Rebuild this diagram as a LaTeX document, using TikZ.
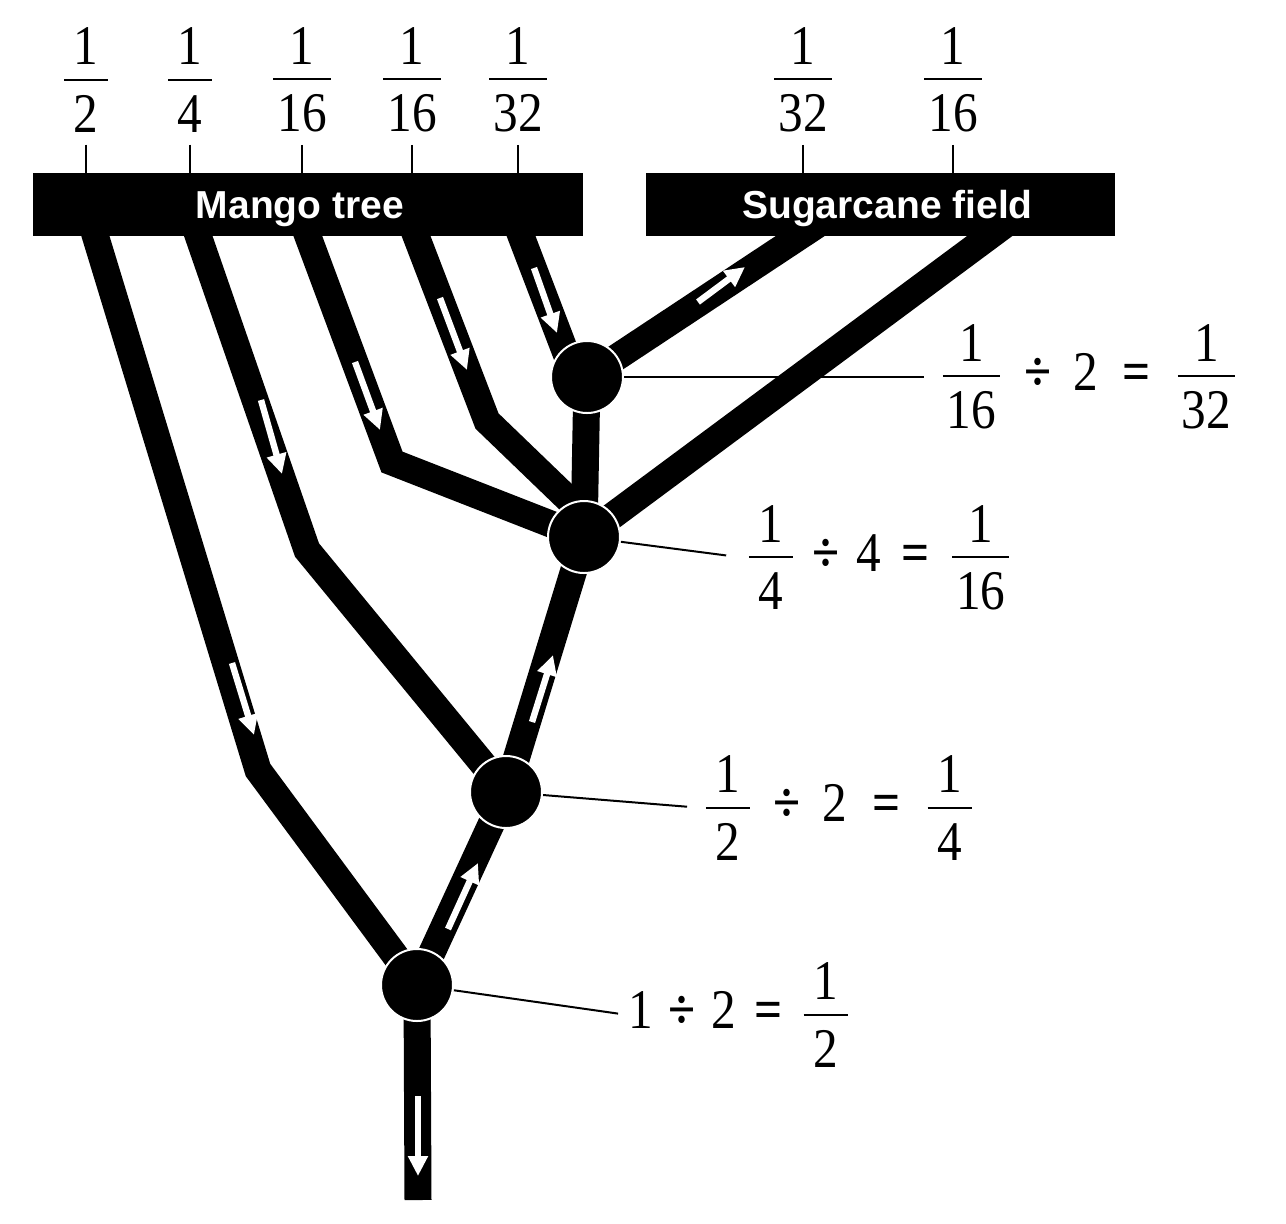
\RequirePackage{fix-cm}
\documentclass[tikz,border=0pt]{standalone}
\usepackage{amsmath}
\usepackage{fontspec}
\setmainfont[FakeStretch=0.88]{Liberation Serif}
\newfontfamily\barfont{Liberation Sans}
\usepackage{tikz}
\usetikzlibrary{arrows.meta,backgrounds}
\definecolor{ink}{HTML}{000000}
\definecolor{paper}{HTML}{FFFFFF}
\newcommand{\fr}[2]{\dfrac{\raisebox{-4.5pt}{\makebox[22pt]{#1}}}{\text{\kern2pt#2\kern2pt}}}
\newcommand{\divop}[1][3]{\mathbin{\mkern#1mu\textbf{÷}\mkern#1mu}}
\newcommand{\eqop}[1][3]{\mathrel{\mkern#1mu\textbf{=}\mkern#1mu}}
\tikzset{
  pipe/.style={draw=ink, line width=13.5pt, line join=miter},
  flow/.style={draw=paper, line width=3.2pt, -{Triangle[width=9.5pt,length=10pt]}},
  junc/.style={circle, fill=ink, draw=paper, line width=1pt, minimum size=36pt, inner sep=0pt},
  bar/.style={fill=ink, text=paper, minimum height=31.5pt, inner sep=0pt, text height=14pt, text depth=0pt, font=\barfont\bfseries\fontsize{19.5}{22}\selectfont},
  tick/.style={draw=ink, line width=1.1pt},
  lead/.style={draw=ink, line width=1pt},
  frac/.style={text=ink, inner sep=0pt, font=\fontsize{28}{32}\selectfont},
}
\begin{document}
\begin{tikzpicture}[x=0.5pt, y=-0.5pt]
  \useasboundingbox (0,0) rectangle (1286,1223);
  % shares above the bars
  \node[frac] (m1) at (86,80) {$\fr{1}{2}$};
  \node[frac] (m2) at (190,80) {$\fr{1}{4}$};
  \node[frac] (m3) at (302,80) {$\fr{1}{16}$};
  \node[frac] (m4) at (412,80) {$\fr{1}{16}$};
  \node[frac] (m5) at (518,80) {$\fr{1}{32}$};
  \node[frac] (s1) at (803,80) {$\fr{1}{32}$};
  \node[frac] (s2) at (953,80) {$\fr{1}{16}$};
  \node[bar, minimum width=275pt] (mango) at (308,204.5) {Mango tree\hspace*{8pt}};
  \node[bar, minimum width=234.5pt] (cane) at (880.5,204.5) {\hspace*{7pt}Sugarcane field};
  \foreach \f in {m1,m2,m3,m4,m5,s1,s2}
    \draw[tick] ([yshift=-6pt]\f.south) -- (\f.south |- mango.north);
  % junctions
  \node[junc] (n1) at (417,985) {};
  \node[junc] (n2) at (506,792) {};
  \node[junc] (n3) at (584,537) {};
  \node[junc] (n4) at (587,377) {};
  % division labels
  \node[frac, anchor=west] (l4) at (940,377) {$\fr{1}{16}\divop\text{2}\eqop\fr{1}{32}$};
  \node[frac, anchor=west] (l3) at (746,558) {$\fr{1}{4}\divop[1.5]\text{4}\eqop[1.5]\fr{1}{16}$};
  \node[frac, anchor=west] (l2) at (703,808) {$\fr{1}{2}\divop\text{2}\eqop\fr{1}{4}$};
  \node[frac, anchor=west] (l1) at (628,1015) {$\text{1}\divop[1]\text{2}\eqop[1]\fr{1}{2}$};
  % pipe ends and bends
  \coordinate (a0) at (89,215);   \coordinate (a1) at (258,770);
  \coordinate (b0) at (191,215);  \coordinate (b1) at (307,550);
  \coordinate (c0) at (300,215);  \coordinate (c1) at (392,462);
  \coordinate (d0) at (408,215);  \coordinate (d1) at (487,421);
  \coordinate (e0) at (513,215);
  \coordinate (f0) at (832,215);
  \coordinate (g0) at (1018,215);
  \coordinate (out) at (418,1200);
  \begin{scope}[on background layer]
    \fill[paper] (0,0) rectangle (1286,1223);
    \draw[lead, shorten >=8pt] (n4) -- (l4.west);
    \draw[lead, shorten >=10pt] (n3) -- (l3.west);
    \draw[lead, shorten >=8pt] (n2) -- (l2.west);
    \draw[lead, shorten >=5pt] (n1) -- (l1.west);
    \draw[pipe] (a0) -- (a1) -- (n1.center);
    \draw[pipe] (b0) -- (b1) -- (n2.center);
    \draw[pipe] (c0) -- (c1) -- (n3.center);
    \draw[pipe] (d0) -- (d1) -- (n3.110);
    \draw[pipe] (e0) -- ([xshift=-6pt]n4.center);
    \draw[pipe] (n4.center) -- (f0);
    \draw[pipe] (n3.center) -- (g0);
    \draw[pipe] (n1.center) -- (n2.center) -- (n3.center) -- (n4.center);
    \draw[pipe] (n1.center) -- (out);
  \end{scope}
  % flow arrows
  \draw[flow] (232,663) -- (254,735);
  \draw[flow] (261,400) -- (282,474);
  \draw[flow] (355,362) -- (380,430);
  \draw[flow] (440,298) -- (467,370);
  \draw[flow] (534,268) -- (557,333);
  \draw[flow] (698,302) -- (745,267);
  \draw[flow] (448,929) -- (478,863);
  \draw[flow] (532,722) -- (553,655);
  \draw[flow] (418,1096) -- (418,1176);
\end{tikzpicture}
\end{document}
